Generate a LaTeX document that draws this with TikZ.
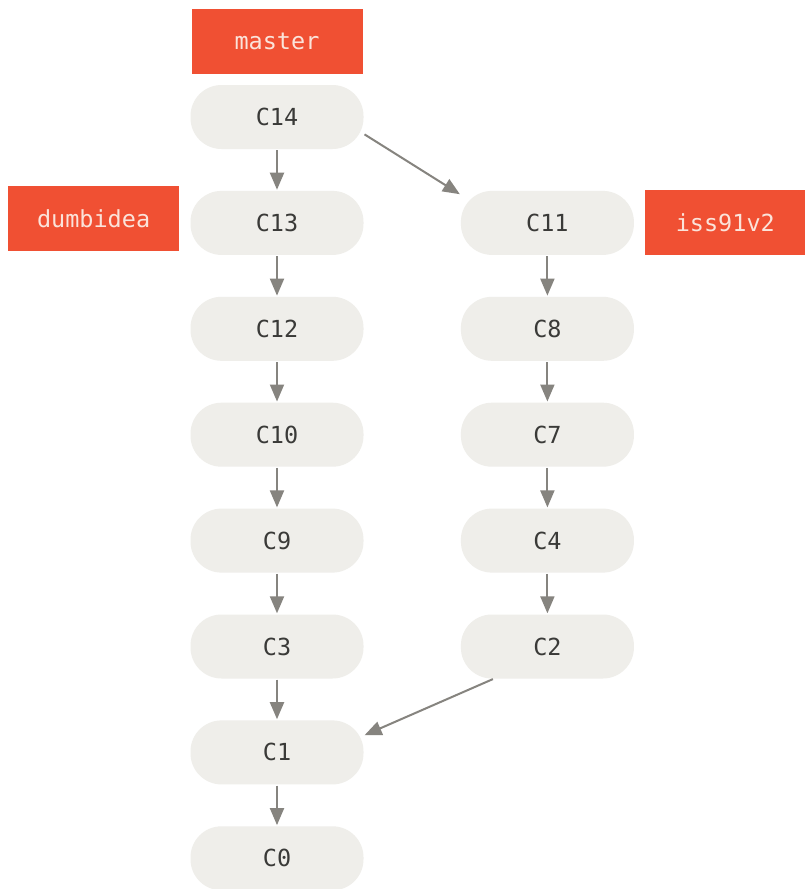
\documentclass[tikz,border=0pt]{standalone}
\usepackage{fontspec}
\setmonofont{DejaVu Sans Mono}
\usetikzlibrary{positioning,arrows.meta}

\definecolor{tagred}{HTML}{F05033}
\definecolor{tagtext}{HTML}{FBE3DA}
\definecolor{commitfill}{HTML}{EFEEEA}
\definecolor{committext}{HTML}{3A3A38}
\definecolor{linkgray}{HTML}{86847F}

\tikzset{
    commit/.style={rectangle, rounded corners=31pt, fill=commitfill, text=committext,
        minimum width=173pt, minimum height=64pt, inner sep=0pt,
        font=\ttfamily\fontsize{23.5}{26}\selectfont},
    tag/.style={rectangle, fill=tagred, text=tagtext,
        minimum width=171pt, minimum height=65pt, inner sep=0pt,
        font=\ttfamily\fontsize{23.5}{26}\selectfont},
    link/.style={draw=linkgray, line width=2pt,
        -{Triangle[length=17pt,width=14pt]}, shorten >=1pt, shorten <=1pt},
}

\begin{document}
\begin{tikzpicture}[x=1pt,y=-1pt]
    \useasboundingbox[fill=white] (0,0) rectangle (807,889);

    % left column
    \node[commit] (c14) at (277,117) {C14};
    \node[commit,below=41.5pt of c14] (c13) {C13};
    \node[commit,below=41.5pt of c13] (c12) {C12};
    \node[commit,below=41.5pt of c12] (c10) {C10};
    \node[commit,below=41.5pt of c10] (c9) {C9};
    \node[commit,below=41.5pt of c9] (c3) {C3};
    \node[commit,below=41.5pt of c3] (c1) {C1};
    \node[commit,below=41.5pt of c1] (c0) {C0};

    % right column
    \node[commit,right=97pt of c13] (c11) {C11};
    \node[commit,below=41.5pt of c11] (c8) {C8};
    \node[commit,below=41.5pt of c8] (c7) {C7};
    \node[commit,below=41.5pt of c7] (c4) {C4};
    \node[commit,below=41.5pt of c4] (c2) {C2};

    % branch labels
    \node[tag,above=11pt of c14] (master) {master};
    \node[tag,left=11pt of c13,yshift=4pt] (dumbidea) {dumbidea};
    \node[tag,right=11pt of c11,minimum width=160pt] (iss91v2) {iss91v2};

    \draw[link] (c14) -- (c13);
    \draw[link] (c13) -- (c12);
    \draw[link] (c12) -- (c10);
    \draw[link] (c10) -- (c9);
    \draw[link] (c9) -- (c3);
    \draw[link] (c3) -- (c1);
    \draw[link] (c1) -- (c0);

    \draw[link] (c11) -- (c8);
    \draw[link] (c8) -- (c7);
    \draw[link] (c7) -- (c4);
    \draw[link] (c4) -- (c2);

    \draw[link] (c14.-11) -- (c11.162);
    \draw[link] (c2.211) -- (c1.11);
\end{tikzpicture}
\end{document}
